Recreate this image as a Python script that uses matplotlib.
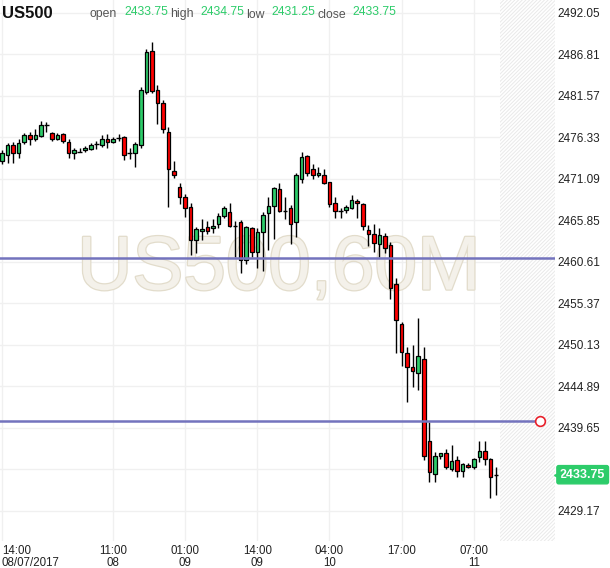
# US500 hourly candles with two support lines

import matplotlib
matplotlib.use('Agg')
import matplotlib.pyplot as plt
import matplotlib.patheffects as pe
from matplotlib.transforms import blended_transform_factory
import numpy as np

plt.rcParams['font.family'] = ['Liberation Sans', 'DejaVu Sans']
plt.rcParams['hatch.color'] = '#e9e9e9'
plt.rcParams['hatch.linewidth'] = 0.7

# OHLC values, one per hourly bar
opens = [2473.40, 2474.12, 2475.38, 2474.33, 2475.80, 2476.64, 2476.10, 2476.56, 2477.91, 2476.85,
         2476.18, 2476.73, 2475.80, 2474.41, 2474.54, 2474.71, 2474.83, 2475.51, 2475.34, 2476.18,
         2475.72, 2476.26, 2476.35, 2474.33, 2474.37, 2475.34, 2482.11, 2487.25, 2482.28, 2480.64,
         2477.06, 2472.10, 2470.04, 2468.77, 2467.51, 2463.39, 2464.56, 2464.98, 2464.86, 2465.36,
         2466.41, 2466.92, 2465.11, 2465.61, 2460.86, 2464.86, 2461.83, 2464.39, 2466.83, 2467.68,
         2469.78, 2467.09, 2467.38, 2465.61, 2471.04, 2473.99, 2472.31, 2471.55, 2471.55, 2470.66,
         2468.06, 2467.05, 2467.21, 2467.38, 2468.31, 2467.89, 2464.65, 2464.10, 2462.88, 2463.89,
         2462.71, 2457.79, 2452.74, 2449.08, 2447.35, 2446.55, 2448.32, 2438.01, 2433.80, 2436.12,
         2436.45, 2434.47, 2435.61, 2434.22, 2434.94, 2434.68, 2435.95, 2436.70, 2435.69, 2433.75]
highs = [2474.75, 2475.68, 2475.80, 2476.10, 2476.94, 2477.06, 2477.36, 2478.45, 2478.33, 2477.06,
         2476.85, 2476.94, 2476.10, 2474.96, 2474.96, 2475.21, 2475.68, 2475.93, 2476.64, 2476.81,
         2476.35, 2476.77, 2476.52, 2475.04, 2475.80, 2482.66, 2487.46, 2488.43, 2482.91, 2481.02,
         2477.69, 2473.36, 2470.58, 2469.19, 2468.02, 2464.98, 2466.08, 2465.82, 2465.99, 2466.83,
         2467.68, 2468.10, 2465.78, 2465.91, 2465.15, 2464.98, 2464.94, 2466.96, 2468.86, 2470.08,
         2470.54, 2468.77, 2467.80, 2471.89, 2474.54, 2474.12, 2472.98, 2472.56, 2472.31, 2470.75,
         2468.77, 2467.38, 2467.80, 2469.07, 2468.52, 2468.10, 2465.28, 2465.40, 2464.86, 2464.31,
         2463.17, 2458.55, 2453.08, 2449.84, 2450.13, 2453.50, 2449.84, 2440.45, 2436.66, 2436.54,
         2437.00, 2437.50, 2436.12, 2435.19, 2435.19, 2435.82, 2438.01, 2438.01, 2435.82, 2434.75]
lows = [2472.98, 2473.07, 2473.07, 2473.70, 2475.46, 2475.34, 2475.93, 2476.35, 2477.06, 2475.89,
        2476.01, 2475.59, 2473.70, 2473.57, 2474.50, 2474.54, 2474.75, 2474.83, 2475.17, 2475.04,
        2475.59, 2475.89, 2473.53, 2473.57, 2472.56, 2475.04, 2481.86, 2482.00, 2477.99, 2476.85,
        2467.59, 2471.26, 2467.89, 2466.33, 2461.49, 2461.80, 2463.38, 2464.10, 2464.31, 2464.86,
        2466.12, 2464.98, 2461.28, 2459.17, 2460.31, 2461.28, 2459.81, 2459.51, 2462.12, 2463.47,
        2466.88, 2466.08, 2462.84, 2463.80, 2470.54, 2471.46, 2471.04, 2471.30, 2470.45, 2467.59,
        2466.12, 2466.12, 2466.75, 2467.26, 2466.12, 2464.65, 2462.63, 2461.91, 2461.19, 2461.70,
        2455.89, 2449.08, 2447.52, 2442.97, 2444.87, 2444.45, 2435.61, 2432.79, 2432.87, 2435.69,
        2434.47, 2434.22, 2433.50, 2433.50, 2434.56, 2434.47, 2435.40, 2434.98, 2430.77, 2431.25]
closes = [2474.33, 2475.38, 2474.33, 2475.63, 2476.64, 2476.10, 2476.64, 2477.91, 2477.91, 2476.10,
          2476.64, 2475.93, 2474.33, 2474.71, 2474.54, 2475.00, 2475.42, 2475.51, 2476.14, 2475.72,
          2476.18, 2476.26, 2474.12, 2474.33, 2475.46, 2482.33, 2487.08, 2482.16, 2480.64, 2477.36,
          2472.35, 2471.55, 2468.77, 2467.38, 2463.39, 2464.77, 2464.81, 2464.52, 2465.15, 2466.37,
          2467.38, 2465.11, 2465.11, 2460.86, 2464.98, 2461.83, 2464.35, 2466.50, 2467.68, 2469.91,
          2467.09, 2467.09, 2465.40, 2471.59, 2473.82, 2471.80, 2471.55, 2471.80, 2470.54, 2467.89,
          2467.05, 2467.05, 2467.51, 2468.48, 2468.01, 2465.15, 2464.10, 2462.96, 2463.97, 2462.33,
          2457.28, 2453.29, 2449.20, 2447.35, 2446.85, 2448.78, 2436.16, 2434.05, 2436.16, 2436.45,
          2434.68, 2435.44, 2434.22, 2435.06, 2434.68, 2435.69, 2436.70, 2435.78, 2433.50, 2433.75]

# time axis labels (bar index -> label)
time_ticks = [0, 20, 33, 46, 59, 72, 85]
time_labels = ['14:00\n08/07/2017', '11:00\n08', '01:00\n09', '14:00\n09',
               '04:00\n10', '17:00', '07:00\n11']

# horizontal support lines
level_upper = 2461.08
level_lower = 2440.57
last_price = 2433.75

price_ticks = [2492.05 - 5.24 * k for k in range(13)]

W, H = 610, 568
fig = plt.figure(figsize=(W / 100, H / 100), dpi=100)
ax = fig.add_axes([0, 27 / H, 555 / W, 541 / H])

ax.set_xlim(-0.36, 99.64)
ax.set_ylim(2425.38, 2493.69)

# grid
for t in time_ticks:
    ax.axvline(t, color='#f0f0f0', lw=1, zorder=0)
for p in price_ticks:
    ax.axhline(p, color='#f0f0f0', lw=1, zorder=0)

# empty future area, hatched
ax.axvspan(89.73, 99.64, facecolor='white', edgecolor='#e9e9e9', hatch='/' * 9,
           lw=0, zorder=0.5)

# watermark
ax.text(49.9, 2459.6, 'US500,60M', fontsize=55, color='#f4f1ea', ha='center', va='center',
        zorder=1, path_effects=[pe.Stroke(linewidth=1.8, foreground='#e2dccb'), pe.Normal()])

# candles
o = np.array(opens)
h = np.array(highs)
l = np.array(lows)
c = np.array(closes)
x = np.arange(len(o))
up = c > o
down = c < o
colors = np.where(up, '#2dcc6a', '#ff0000')

ax.vlines(x, l, h, color='black', lw=1.0, zorder=3)
body_bottom = np.minimum(o, c)
body_height = np.abs(c - o)
mask = up | down
ax.bar(x[mask], body_height[mask], bottom=body_bottom[mask], width=0.64,
       color=colors[mask], edgecolor='black', linewidth=0.9, zorder=4)
ax.hlines(o[~mask], x[~mask] - 0.4, x[~mask] + 0.4, color='black', lw=1.0, zorder=4)

# support lines
ax.axhline(level_upper, color='#7373bd', lw=1.8, zorder=5)
ax.plot([-0.36, 96.94], [level_lower, level_lower], color='#7373bd', lw=1.8, zorder=5)
ax.plot([96.94], [level_lower], marker='o', ms=7, mfc='white', mec='#e8202a', mew=1.2,
        zorder=6)

# axes styling
for s in ax.spines.values():
    s.set_visible(False)
ax.yaxis.tick_right()
ax.set_yticks(price_ticks)
ax.set_yticklabels(['%.2f' % p for p in price_ticks])
ax.tick_params(axis='y', length=0, pad=2, labelsize=8.5, labelcolor='#222222')
ax.set_xticks(time_ticks)
ax.set_xticklabels(time_labels)
ax.tick_params(axis='x', length=0, pad=3, labelsize=8.3, labelcolor='#222222')
for i, lab in enumerate(ax.get_xticklabels()):
    lab.set_linespacing(0.95)
    if i == 0:
        lab.set_ha('left')
        lab.set_multialignment('left')
    else:
        lab.set_multialignment('center')

# last price tag (covers the 2434.41 tick label like the original)
tr = blended_transform_factory(ax.transAxes, ax.transData)
ax.text(1.009, last_price, '%.2f' % last_price, transform=tr, ha='left', va='center',
        fontsize=9, fontweight='bold', color='white', zorder=10, clip_on=False,
        bbox=dict(boxstyle='round,pad=0.25,rounding_size=0.15', fc='#2dcc6a', ec='#2dcc6a'))
ax.plot([1.004], [last_price], transform=tr, marker='<', ms=5, color='#2dcc6a',
        clip_on=False, zorder=10)

# header
def fx(px):
    return px / W

hy = 1 - 13 / H
fig.text(fx(2), hy, 'US500', fontsize=12, fontweight='bold', color='#111111', va='center')
header = [('open', 90, '#555555'), ('2433.75', 124, '#2dcc6a'),
          ('high', 170, '#555555'), ('2434.75', 200, '#2dcc6a'),
          ('low', 246, '#555555'), ('2431.25', 271, '#2dcc6a'),
          ('close', 318, '#555555'), ('2433.75', 352, '#2dcc6a')]
for txt, px, col in header:
    is_label = col == '#555555'
    dy = -1.5 / H if is_label else 1 / H
    fig.text(fx(px), hy + dy, txt, fontsize=8.8 if is_label else 8.7, color=col,
             va='center')

fig.savefig('out.png', dpi=100)
